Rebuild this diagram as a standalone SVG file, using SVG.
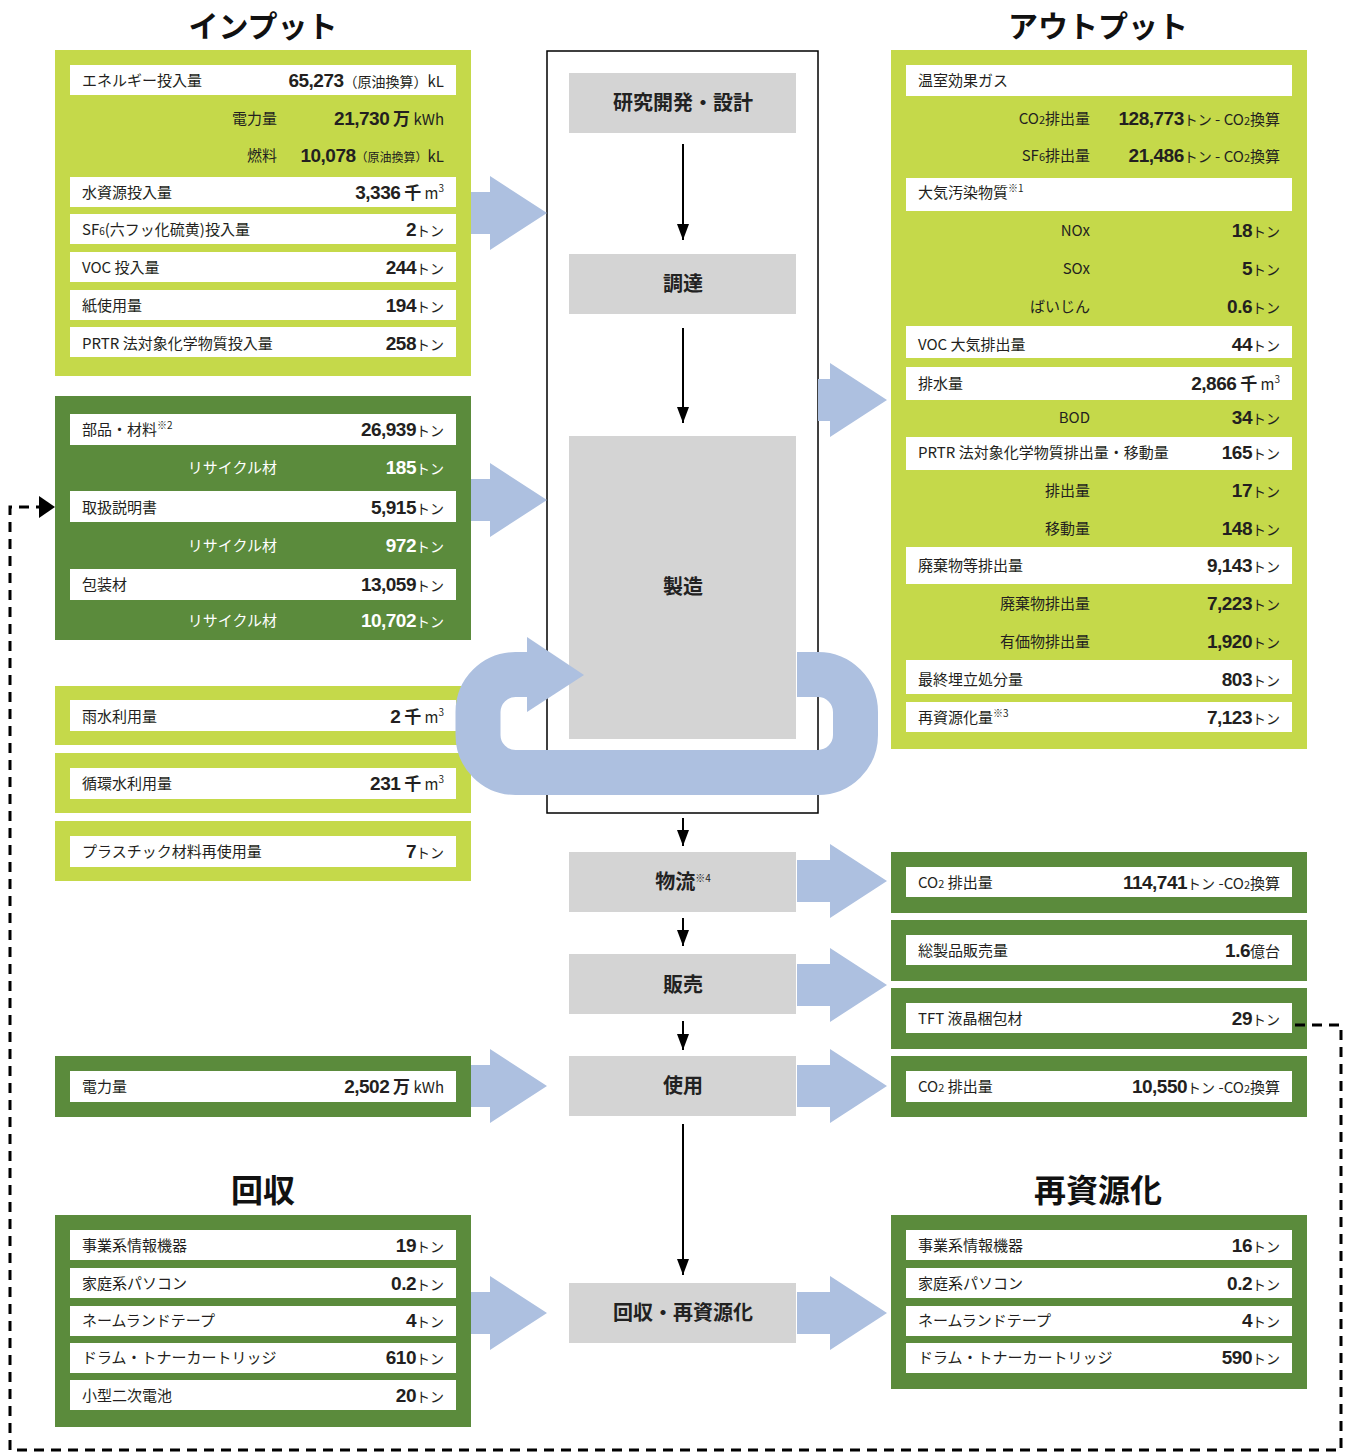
<svg xmlns="http://www.w3.org/2000/svg" width="1346" height="1453" viewBox="0 0 1346 1453">
<style>
.lg{fill:#c5d94a}.dg{fill:#5b8b3c}.w{fill:#fff}.gr{fill:#d4d4d4}.bl{fill:#adc0e0}
text{font-family:"Noto Sans CJK JP","Liberation Sans",sans-serif;fill:#231f20}
.l{font-size:15px}
.r{text-anchor:end}
.c{text-anchor:middle}
.n{font-family:"Liberation Sans Narrow","Liberation Sans","Noto Sans CJK JP",sans-serif;font-weight:bold;font-size:19px;letter-spacing:-0.5px}
.u{font-size:14px}
.s{font-size:12px}
.wt{fill:#fff}
.h{font-size:30px;font-weight:bold;fill:#111}
.h2{font-size:32px;font-weight:bold;fill:#111}
.ct{font-size:20px;font-weight:bold;fill:#222}
.ln{stroke:#000;stroke-width:2;fill:none}
.dash{stroke:#000;stroke-width:3;fill:none;stroke-dasharray:10 7}
.loop{fill:none;stroke:#adc0e0;stroke-width:45}
</style>
<defs>
<marker id="ah" viewBox="0 0 12 16" markerWidth="12" markerHeight="16" refX="6" refY="16" orient="0" markerUnits="userSpaceOnUse">
<path d="M0,0 L12,0 L6,16 z" fill="#000"/>
</marker>
</defs>
<rect width="1346" height="1453" fill="#fff"/>

<!-- titles -->
<text class="h c" x="263" y="37">インプット</text>
<text class="h c" x="1098" y="37">アウトプット</text>
<text class="h2 c" x="263" y="1202">回収</text>
<text class="h2 c" x="1098" y="1202">再資源化</text>

<!-- center column -->
<g id="process-frame">
<rect x="547" y="51" width="271" height="762" fill="none" stroke="#000" stroke-width="1.5"/>
</g>
<g id="p-rd"><rect class="gr" x="569" y="73" width="227" height="60"/><text class="ct c" x="683" y="110">研究開発・設計</text></g>
<g id="p-proc"><rect class="gr" x="569" y="254" width="227" height="60"/><text class="ct c" x="683" y="291">調達</text></g>
<g id="p-mfg"><rect class="gr" x="569" y="436" width="227" height="303"/><text class="ct c" x="683" y="594">製造</text></g>
<g id="p-log"><rect class="gr" x="569" y="852" width="227" height="60"/><text class="ct c" x="683" y="889">物流<tspan font-size="10" font-weight="normal" dy="-7">※4</tspan></text></g>
<g id="p-sales"><rect class="gr" x="569" y="954" width="227" height="60"/><text class="ct c" x="683" y="992">販売</text></g>
<g id="p-use"><rect class="gr" x="569" y="1056" width="227" height="60"/><text class="ct c" x="683" y="1093">使用</text></g>
<g id="p-rec"><rect class="gr" x="569" y="1283" width="227" height="60"/><text class="ct c" x="683" y="1320">回収・再資源化</text></g>

<!-- input box 1 -->
<g id="in-resources">
<rect class="lg" x="55" y="50" width="416" height="326"/>
<rect class="w" x="70" y="65" width="386" height="30"/>
<rect class="w" x="70" y="177" width="386" height="30"/>
<rect class="w" x="70" y="214" width="386" height="30"/>
<rect class="w" x="70" y="252" width="386" height="30"/>
<rect class="w" x="70" y="290" width="386" height="30"/>
<rect class="w" x="70" y="327" width="386" height="30"/>
<text class="l" x="82" y="86">エネルギー投入量</text>
<text class="l r" x="444" y="87"><tspan class="n">65,273</tspan><tspan class="u">（原油換算）</tspan>kL</text>
<text class="l r" x="277" y="124">電力量</text>
<text class="l r" x="444" y="125"><tspan class="n">21,730</tspan><tspan font-weight="bold" font-size="17"> 万</tspan> kWh</text>
<text class="l r" x="277" y="161">燃料</text>
<text class="l r" x="444" y="162"><tspan class="n">10,078</tspan><tspan class="s">（原油換算）</tspan>kL</text>
<text class="l" x="82" y="198">水資源投入量</text>
<text class="l r" x="444" y="199"><tspan class="n">3,336</tspan><tspan font-weight="bold" font-size="17"> 千</tspan> m<tspan font-size="10" dy="-7">3</tspan></text>
<text class="l" x="82" y="235">SF<tspan font-size="10">6</tspan>(六フッ化硫黄)投入量</text>
<text class="l r" x="444" y="236"><tspan class="n">2</tspan><tspan class="u">トン</tspan></text>
<text class="l" x="82" y="273">VOC 投入量</text>
<text class="l r" x="444" y="274"><tspan class="n">244</tspan><tspan class="u">トン</tspan></text>
<text class="l" x="82" y="311">紙使用量</text>
<text class="l r" x="444" y="312"><tspan class="n">194</tspan><tspan class="u">トン</tspan></text>
<text class="l" x="82" y="349">PRTR 法対象化学物質投入量</text>
<text class="l r" x="444" y="350"><tspan class="n">258</tspan><tspan class="u">トン</tspan></text>
</g>

<!-- input box 2 -->
<g id="in-materials">
<rect class="dg" x="55" y="396" width="416" height="244"/>
<rect class="w" x="70" y="414" width="386" height="31"/>
<rect class="w" x="70" y="491" width="386" height="31"/>
<rect class="w" x="70" y="569" width="386" height="31"/>
<text class="l" x="82" y="435">部品・材料<tspan font-size="10" dy="-6">※2</tspan></text>
<text class="l r" x="444" y="436"><tspan class="n">26,939</tspan><tspan class="u">トン</tspan></text>
<text class="l r wt" x="277" y="473">リサイクル材</text>
<text class="l r wt" x="444" y="474"><tspan class="n wt">185</tspan><tspan class="u wt">トン</tspan></text>
<text class="l" x="82" y="513">取扱説明書</text>
<text class="l r" x="444" y="514"><tspan class="n">5,915</tspan><tspan class="u">トン</tspan></text>
<text class="l r wt" x="277" y="551">リサイクル材</text>
<text class="l r wt" x="444" y="552"><tspan class="n wt">972</tspan><tspan class="u wt">トン</tspan></text>
<text class="l" x="82" y="590">包装材</text>
<text class="l r" x="444" y="591"><tspan class="n">13,059</tspan><tspan class="u">トン</tspan></text>
<text class="l r wt" x="277" y="626">リサイクル材</text>
<text class="l r wt" x="444" y="627"><tspan class="n wt">10,702</tspan><tspan class="u wt">トン</tspan></text>
</g>

<!-- water boxes -->
<g id="in-rain">
<rect class="lg" x="55" y="686" width="416" height="59"/>
<rect class="w" x="70" y="700" width="386" height="31"/>
<text class="l" x="82" y="722">雨水利用量</text>
<text class="l r" x="444" y="723"><tspan class="n">2</tspan><tspan font-weight="bold" font-size="17"> 千</tspan> m<tspan font-size="10" dy="-7">3</tspan></text>
</g>
<g id="in-circ">
<rect class="lg" x="55" y="753" width="416" height="60"/>
<rect class="w" x="70" y="768" width="386" height="31"/>
<text class="l" x="82" y="789">循環水利用量</text>
<text class="l r" x="444" y="790"><tspan class="n">231</tspan><tspan font-weight="bold" font-size="17"> 千</tspan> m<tspan font-size="10" dy="-7">3</tspan></text>
</g>
<g id="in-plastic">
<rect class="lg" x="55" y="821" width="416" height="60"/>
<rect class="w" x="70" y="836" width="386" height="31"/>
<text class="l" x="82" y="857">プラスチック材料再使用量</text>
<text class="l r" x="444" y="858"><tspan class="n">7</tspan><tspan class="u">トン</tspan></text>
</g>
<g id="in-power">
<rect class="dg" x="55" y="1056" width="416" height="61"/>
<rect class="w" x="70" y="1071" width="386" height="31"/>
<text class="l" x="82" y="1092">電力量</text>
<text class="l r" x="444" y="1093"><tspan class="n">2,502</tspan><tspan font-weight="bold" font-size="17"> 万</tspan> kWh</text>
</g>

<!-- collection -->
<g id="collect">
<rect class="dg" x="55" y="1215" width="416" height="212"/>
<rect class="w" x="70" y="1230" width="386" height="30"/>
<rect class="w" x="70" y="1268" width="386" height="30"/>
<rect class="w" x="70" y="1306" width="386" height="30"/>
<rect class="w" x="70" y="1343" width="386" height="30"/>
<rect class="w" x="70" y="1380" width="386" height="30"/>
<text class="l" x="82" y="1251">事業系情報機器</text>
<text class="l r" x="444" y="1252"><tspan class="n">19</tspan><tspan class="u">トン</tspan></text>
<text class="l" x="82" y="1289">家庭系パソコン</text>
<text class="l r" x="444" y="1290"><tspan class="n">0.2</tspan><tspan class="u">トン</tspan></text>
<text class="l" x="82" y="1326">ネームランドテープ</text>
<text class="l r" x="444" y="1327"><tspan class="n">4</tspan><tspan class="u">トン</tspan></text>
<text class="l" x="82" y="1363">ドラム・トナーカートリッジ</text>
<text class="l r" x="444" y="1364"><tspan class="n">610</tspan><tspan class="u">トン</tspan></text>
<text class="l" x="82" y="1401">小型二次電池</text>
<text class="l r" x="444" y="1402"><tspan class="n">20</tspan><tspan class="u">トン</tspan></text>
</g>

<!-- output top -->
<g id="out-main">
<rect class="lg" x="891" y="50" width="416" height="699"/>
<rect class="w" x="906" y="65" width="386" height="31"/>
<rect class="w" x="906" y="178" width="386" height="33"/>
<rect class="w" x="906" y="326" width="386" height="32"/>
<rect class="w" x="906" y="367" width="386" height="33"/>
<rect class="w" x="906" y="437" width="386" height="33"/>
<rect class="w" x="906" y="547" width="386" height="37"/>
<rect class="w" x="906" y="660" width="386" height="34"/>
<rect class="w" x="906" y="702" width="386" height="30"/>
<text class="l" x="918" y="86">温室効果ガス</text>
<text class="l r" x="1090" y="124">CO<tspan font-size="11">2</tspan>排出量</text>
<text class="l r" x="1280" y="125"><tspan class="n">128,773</tspan><tspan class="u">トン</tspan> - CO<tspan font-size="11">2</tspan>換算</text>
<text class="l r" x="1090" y="161">SF<tspan font-size="11">6</tspan>排出量</text>
<text class="l r" x="1280" y="162"><tspan class="n">21,486</tspan><tspan class="u">トン</tspan> - CO<tspan font-size="11">2</tspan>換算</text>
<text class="l" x="918" y="198">大気汚染物質<tspan font-size="10" dy="-6">※1</tspan></text>
<text class="l r" x="1090" y="236">NOx</text>
<text class="l r" x="1280" y="237"><tspan class="n">18</tspan><tspan class="u">トン</tspan></text>
<text class="l r" x="1090" y="274">SOx</text>
<text class="l r" x="1280" y="275"><tspan class="n">5</tspan><tspan class="u">トン</tspan></text>
<text class="l r" x="1090" y="312">ばいじん</text>
<text class="l r" x="1280" y="313"><tspan class="n">0.6</tspan><tspan class="u">トン</tspan></text>
<text class="l" x="918" y="350">VOC 大気排出量</text>
<text class="l r" x="1280" y="351"><tspan class="n">44</tspan><tspan class="u">トン</tspan></text>
<text class="l" x="918" y="389">排水量</text>
<text class="l r" x="1280" y="390"><tspan class="n">2,866</tspan><tspan font-weight="bold" font-size="17"> 千</tspan> m<tspan font-size="10" dy="-7">3</tspan></text>
<text class="l r" x="1090" y="423">BOD</text>
<text class="l r" x="1280" y="424"><tspan class="n">34</tspan><tspan class="u">トン</tspan></text>
<text class="l" x="918" y="458">PRTR 法対象化学物質排出量・移動量</text>
<text class="l r" x="1280" y="459"><tspan class="n">165</tspan><tspan class="u">トン</tspan></text>
<text class="l r" x="1090" y="496">排出量</text>
<text class="l r" x="1280" y="497"><tspan class="n">17</tspan><tspan class="u">トン</tspan></text>
<text class="l r" x="1090" y="534">移動量</text>
<text class="l r" x="1280" y="535"><tspan class="n">148</tspan><tspan class="u">トン</tspan></text>
<text class="l" x="918" y="571">廃棄物等排出量</text>
<text class="l r" x="1280" y="572"><tspan class="n">9,143</tspan><tspan class="u">トン</tspan></text>
<text class="l r" x="1090" y="609">廃棄物排出量</text>
<text class="l r" x="1280" y="610"><tspan class="n">7,223</tspan><tspan class="u">トン</tspan></text>
<text class="l r" x="1090" y="647">有価物排出量</text>
<text class="l r" x="1280" y="648"><tspan class="n">1,920</tspan><tspan class="u">トン</tspan></text>
<text class="l" x="918" y="685">最終埋立処分量</text>
<text class="l r" x="1280" y="686"><tspan class="n">803</tspan><tspan class="u">トン</tspan></text>
<text class="l" x="918" y="723">再資源化量<tspan font-size="10" dy="-6">※3</tspan></text>
<text class="l r" x="1280" y="724"><tspan class="n">7,123</tspan><tspan class="u">トン</tspan></text>
</g>

<g id="out-log">
<rect class="dg" x="891" y="852" width="416" height="61"/>
<rect class="w" x="906" y="867" width="386" height="30"/>
<text class="l" x="918" y="888">CO<tspan font-size="11">2</tspan> 排出量</text>
<text class="l r" x="1280" y="889"><tspan class="n">114,741</tspan><tspan class="u">トン</tspan> -CO<tspan font-size="11">2</tspan>換算</text>
</g>
<g id="out-sales">
<rect class="dg" x="891" y="920" width="416" height="61"/>
<rect class="w" x="906" y="935" width="386" height="30"/>
<text class="l" x="918" y="956">総製品販売量</text>
<text class="l r" x="1280" y="957"><tspan class="n">1.6</tspan>億台</text>
</g>
<g id="out-tft">
<rect class="dg" x="891" y="988" width="416" height="61"/>
<rect class="w" x="906" y="1003" width="386" height="30"/>
<text class="l" x="918" y="1024">TFT 液晶梱包材</text>
<text class="l r" x="1280" y="1025"><tspan class="n">29</tspan><tspan class="u">トン</tspan></text>
</g>
<g id="out-use">
<rect class="dg" x="891" y="1056" width="416" height="61"/>
<rect class="w" x="906" y="1071" width="386" height="31"/>
<text class="l" x="918" y="1092">CO<tspan font-size="11">2</tspan> 排出量</text>
<text class="l r" x="1280" y="1093"><tspan class="n">10,550</tspan><tspan class="u">トン</tspan> -CO<tspan font-size="11">2</tspan>換算</text>
</g>

<g id="recycle">
<rect class="dg" x="891" y="1215" width="416" height="174"/>
<rect class="w" x="906" y="1230" width="386" height="30"/>
<rect class="w" x="906" y="1268" width="386" height="30"/>
<rect class="w" x="906" y="1306" width="386" height="30"/>
<rect class="w" x="906" y="1343" width="386" height="30"/>
<text class="l" x="918" y="1251">事業系情報機器</text>
<text class="l r" x="1280" y="1252"><tspan class="n">16</tspan><tspan class="u">トン</tspan></text>
<text class="l" x="918" y="1289">家庭系パソコン</text>
<text class="l r" x="1280" y="1290"><tspan class="n">0.2</tspan><tspan class="u">トン</tspan></text>
<text class="l" x="918" y="1326">ネームランドテープ</text>
<text class="l r" x="1280" y="1327"><tspan class="n">4</tspan><tspan class="u">トン</tspan></text>
<text class="l" x="918" y="1363">ドラム・トナーカートリッジ</text>
<text class="l r" x="1280" y="1364"><tspan class="n">590</tspan><tspan class="u">トン</tspan></text>
</g>

<!-- connectors -->
<g id="connectors">
<path class="loop" d="M797,674.5 H818 A37.5,37.5 0 0 1 855.5,712 V735 A37.5,37.5 0 0 1 818,772.5 H515.5 A37.5,37.5 0 0 1 478,735 V712 A37.5,37.5 0 0 1 515.5,674.5 H530"/>
<polygon class="bl" points="527,637 584,675 527,712"/>
<polygon class="bl" points="471,192 490,192 490,176 547,213 490,250 490,234 471,234"/>
<polygon class="bl" points="471,479 490,479 490,463 547,500 490,537 490,521 471,521"/>
<polygon class="bl" points="471,1065 490,1065 490,1049 547,1086 490,1123 490,1107 471,1107"/>
<polygon class="bl" points="471,1292 490,1292 490,1276 547,1313 490,1350 490,1334 471,1334"/>
<polygon class="bl" points="818,379 830,379 830,363 887,400 830,437 830,421 818,421"/>
<polygon class="bl" points="797,860 830,860 830,844 887,881 830,918 830,902 797,902"/>
<polygon class="bl" points="797,964 830,964 830,948 887,985 830,1022 830,1006 797,1006"/>
<polygon class="bl" points="797,1065 830,1065 830,1049 887,1086 830,1123 830,1107 797,1107"/>
<polygon class="bl" points="797,1292 830,1292 830,1276 887,1313 830,1350 830,1334 797,1334"/>
<line class="ln" x1="683" y1="144" x2="683" y2="240" marker-end="url(#ah)"/>
<line class="ln" x1="683" y1="328" x2="683" y2="423" marker-end="url(#ah)"/>
<line class="ln" x1="683" y1="818" x2="683" y2="846" marker-end="url(#ah)"/>
<line class="ln" x1="683" y1="918" x2="683" y2="946" marker-end="url(#ah)"/>
<line class="ln" x1="683" y1="1021" x2="683" y2="1050" marker-end="url(#ah)"/>
<line class="ln" x1="683" y1="1124" x2="683" y2="1275" marker-end="url(#ah)"/>
<path class="dash" d="M1295,1025 H1341 V1450 H10 V507 H40"/>
<polygon points="39,496 55,507 39,518" fill="#000"/>
</g>
</svg>
